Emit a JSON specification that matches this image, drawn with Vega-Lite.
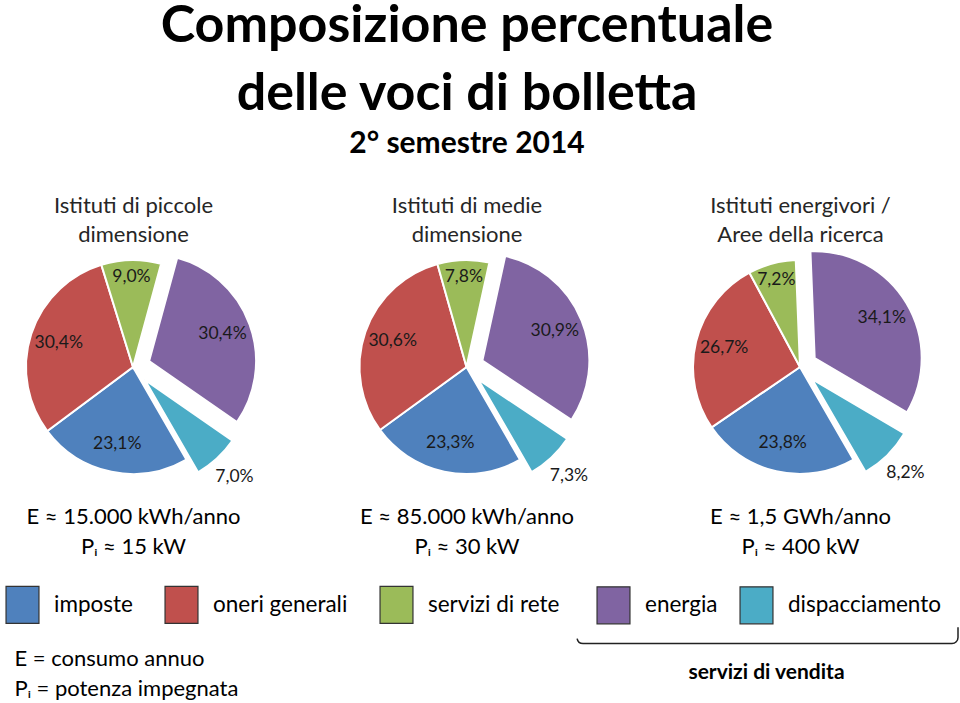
{
  "$schema": "https://vega.github.io/schema/vega-lite/v6.json",
  "width": 960,
  "height": 703,
  "autosize": {"type": "none"},
  "padding": 0,
  "config": {"font": "Lato", "view": {"stroke": null}},
  "title": {
    "text": ["Composizione percentuale", "delle voci di bolletta"],
    "subtitle": "2° semestre 2014",
    "fontSize": 52,
    "fontWeight": "bold",
    "lineHeight": 68,
    "color": "black",
    "subtitleFontSize": 30,
    "subtitleFontWeight": "bold",
    "subtitleColor": "black",
    "subtitlePadding": 8,
    "anchor": "middle",
    "frame": "group",
    "offset": -160,
    "dx": -13
  },
  "data": {
    "values": [
      {"istituto": "Istituti di piccole dimensione", "voce": "imposte", "pct": 23.1},
      {"istituto": "Istituti di piccole dimensione", "voce": "oneri generali", "pct": 30.4},
      {"istituto": "Istituti di piccole dimensione", "voce": "servizi di rete", "pct": 9.0},
      {"istituto": "Istituti di piccole dimensione", "voce": "energia", "pct": 30.4},
      {"istituto": "Istituti di piccole dimensione", "voce": "dispacciamento", "pct": 7.0},
      {"istituto": "Istituti di medie dimensione", "voce": "imposte", "pct": 23.3},
      {"istituto": "Istituti di medie dimensione", "voce": "oneri generali", "pct": 30.6},
      {"istituto": "Istituti di medie dimensione", "voce": "servizi di rete", "pct": 7.8},
      {"istituto": "Istituti di medie dimensione", "voce": "energia", "pct": 30.9},
      {"istituto": "Istituti di medie dimensione", "voce": "dispacciamento", "pct": 7.3},
      {"istituto": "Istituti energivori / Aree della ricerca", "voce": "imposte", "pct": 23.8},
      {"istituto": "Istituti energivori / Aree della ricerca", "voce": "oneri generali", "pct": 26.7},
      {"istituto": "Istituti energivori / Aree della ricerca", "voce": "servizi di rete", "pct": 7.2},
      {"istituto": "Istituti energivori / Aree della ricerca", "voce": "energia", "pct": 34.1},
      {"istituto": "Istituti energivori / Aree della ricerca", "voce": "dispacciamento", "pct": 8.2}
    ]
  },
  "transform": [
    {"calculate": "indexof(['imposte','oneri generali','servizi di rete','energia','dispacciamento'], datum.voce)", "as": "rank"},
    {"joinaggregate": [{"op": "sum", "field": "pct", "as": "tot"}], "groupby": ["istituto"]},
    {"window": [{"op": "sum", "field": "pct", "as": "cum"}], "groupby": ["istituto"], "sort": [{"field": "rank", "order": "ascending"}], "frame": [null, 0]},
    {"calculate": "2.618 + 2*PI*(datum.cum - datum.pct)/datum.tot", "as": "a0"},
    {"calculate": "2.618 + 2*PI*datum.cum/datum.tot", "as": "a1"},
    {"calculate": "(datum.a0 + datum.a1)/2", "as": "mid"},
    {"calculate": "(datum.voce == 'energia' || datum.voce == 'dispacciamento') ? 0.16 : 0", "as": "expl"},
    {"calculate": "datum.expl * sin(datum.mid)", "as": "ax"},
    {"calculate": "datum.expl * cos(datum.mid)", "as": "ay"},
    {"calculate": "datum.expl + (datum.voce == 'dispacciamento' ? 1.24 : (datum.voce == 'servizi di rete' ? 0.84 : 0.73))", "as": "lr"},
    {"calculate": "datum.lr * sin(datum.mid)", "as": "lx"},
    {"calculate": "datum.lr * cos(datum.mid)", "as": "ly"},
    {"calculate": "replace(format(datum.pct, '.1f'), '.', ',') + '%'", "as": "etichetta"}
  ],
  "resolve": {"scale": {"fill": "independent"}, "axis": {"x": "independent"}},
  "layer": [
    {
      "transform": [{"filter": "datum.rank < 3"}],
      "mark": {"type": "arc", "radius": 107, "stroke": "white", "strokeWidth": 2},
      "encoding": {
        "x": {
          "field": "istituto", "type": "nominal",
          "scale": {"type": "point", "padding": 0, "domain": ["Istituti di piccole dimensione", "Istituti di medie dimensione", "Istituti energivori / Aree della ricerca"], "range": [133, 800]},
          "axis": {
            "orient": "top", "offset": -217, "domain": false, "ticks": false, "grid": false,
            "labelPadding": 0, "labelFontSize": 22, "labelLineHeight": 29, "labelColor": "#262626", "labelAngle": 0, "labelLimit": 400,
            "labelExpr": "datum.value == 'Istituti di piccole dimensione' ? ['Istituti di piccole', 'dimensione'] : (datum.value == 'Istituti di medie dimensione' ? ['Istituti di medie', 'dimensione'] : ['Istituti energivori /', 'Aree della ricerca'])",
            "title": "servizi di vendita", "titleX": 766, "titleY": 455, "titleAlign": "center", "titleBaseline": "middle",
            "titleFontSize": 21, "titleFontWeight": "bold", "titleColor": "black"
          }
        },
        "xOffset": {"field": "ax", "type": "quantitative", "scale": {"domain": [-1, 1], "range": [-107, 107]}},
        "y": {"field": "ay", "type": "quantitative", "scale": {"domain": [-1, 1], "range": [474, 260]}, "axis": null},
        "theta": {"field": "a0", "type": "quantitative", "scale": null},
        "theta2": {"field": "a1"},
        "fill": {
          "field": "voce", "type": "nominal",
          "scale": {"domain": ["imposte", "oneri generali", "servizi di rete"], "range": ["#4F81BD", "#C0504D", "#9BBB59"]},
          "legend": {
            "orient": "none", "legendX": 3, "legendY": 585, "direction": "horizontal", "title": null,
            "symbolType": "M-0.89,-1H0.89V1H-0.89Z", "symbolSize": 1369, "symbolStrokeColor": "#333", "symbolStrokeWidth": 1.2, "symbolOpacity": 1,
            "labelFontSize": 22.5, "labelOffset": 12, "columnPadding": 29, "labelColor": "black", "padding": 0, "labelLimit": 400
          }
        }
      }
    },
    {
      "transform": [{"filter": "datum.rank >= 3"}],
      "mark": {"type": "arc", "radius": 107, "stroke": "white", "strokeWidth": 2},
      "encoding": {
        "x": {
          "field": "istituto", "type": "nominal",
          "scale": {"type": "point", "padding": 0, "domain": ["Istituti di piccole dimensione", "Istituti di medie dimensione", "Istituti energivori / Aree della ricerca"], "range": [133, 800]},
          "axis": {
            "orient": "bottom", "offset": -197, "domain": false, "ticks": false, "grid": false,
            "labelPadding": 0, "labelFontSize": 22, "labelLineHeight": 30, "labelColor": "black", "labelAngle": 0, "labelLimit": 400,
            "labelExpr": "datum.value == 'Istituti di piccole dimensione' ? ['E ≈ 15.000 kWh/anno', 'Pᵢ ≈ 15 kW'] : (datum.value == 'Istituti di medie dimensione' ? ['E ≈ 85.000 kWh/anno', 'Pᵢ ≈ 30 kW'] : ['E ≈ 1,5 GWh/anno', 'Pᵢ ≈ 400 kW'])",
            "title": ["E = consumo annuo", "Pᵢ = potenza impegnata"], "titleX": 14, "titleY": 152, "titleAlign": "left", "titleBaseline": "middle",
            "titleFontSize": 22, "titleFontWeight": "normal", "titleLineHeight": 30, "titleColor": "black"
          }
        },
        "xOffset": {"field": "ax", "type": "quantitative", "scale": {"domain": [-1, 1], "range": [-107, 107]}},
        "y": {"field": "ay", "type": "quantitative", "scale": {"domain": [-1, 1], "range": [474, 260]}, "axis": null},
        "theta": {"field": "a0", "type": "quantitative", "scale": null},
        "theta2": {"field": "a1"},
        "fill": {
          "field": "voce", "type": "nominal",
          "scale": {"domain": ["energia", "dispacciamento"], "range": ["#8064A2", "#4BACC6"]},
          "legend": {
            "orient": "none", "legendX": 577, "legendY": 568.5, "direction": "horizontal", "title": null,
            "symbolType": "M-0.89,-1H0.89V1H-0.89Z", "symbolSize": 1369, "symbolStrokeColor": "#333", "symbolStrokeWidth": 1.2, "symbolOpacity": 1,
            "labelFontSize": 22.5, "labelOffset": 12, "columnPadding": 19, "labelColor": "black", "padding": 17, "labelLimit": 400,
            "strokeColor": "#222", "cornerRadius": 6,
            "encode": {"legend": {"update": {"strokeDash": {"value": [0, 431, 397, 3000]}, "strokeWidth": {"value": 1.5}}}}
          }
        }
      }
    },
    {
      "mark": {"type": "text", "fontSize": 17.5, "color": "#1a1a1a", "align": "center", "baseline": "middle"},
      "encoding": {
        "x": {
          "field": "istituto", "type": "nominal",
          "scale": {"type": "point", "padding": 0, "domain": ["Istituti di piccole dimensione", "Istituti di medie dimensione", "Istituti energivori / Aree della ricerca"], "range": [133, 800]},
          "axis": null
        },
        "xOffset": {"field": "lx", "type": "quantitative", "scale": {"domain": [-1, 1], "range": [-107, 107]}},
        "y": {"field": "ly", "type": "quantitative", "scale": {"domain": [-1, 1], "range": [474, 260]}, "axis": null},
        "text": {"field": "etichetta"}
      }
    }
  ]
}
